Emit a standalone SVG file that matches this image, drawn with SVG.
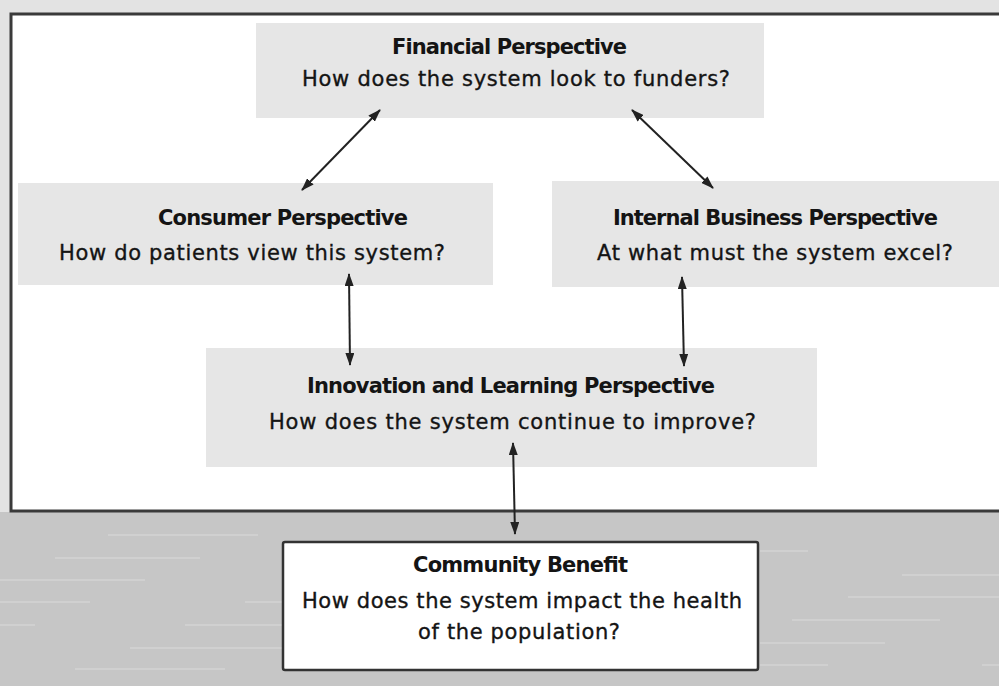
<svg xmlns="http://www.w3.org/2000/svg" width="999" height="686" viewBox="0 0 999 686">
<defs>
<style>
.bg-top{fill:#e3e3e3}
.bg-bot{fill:#c6c6c6}
.streak{stroke:#d3d3d3;stroke-width:1.5}
.frame{fill:#ffffff;stroke:#3a3a3a;stroke-width:3}
.box{fill:#e6e6e6}
.cbox{fill:#ffffff;stroke:#333333;stroke-width:2.5}
text{font-family:"DejaVu Sans","Liberation Sans",sans-serif;font-size:21px;fill:#141414;stroke:#141414;stroke-width:0.35}
.t{font-weight:bold;stroke-width:0}
.conn line{stroke:#222222;stroke-width:2}
</style>
<marker id="ah" viewBox="0 0 13 9" refX="12" refY="4.5" markerWidth="13" markerHeight="9" markerUnits="userSpaceOnUse" orient="auto-start-reverse">
<path d="M0,0 L13,4.5 L0,9 Z" fill="#222222"/>
</marker>
</defs>
<rect class="bg-top" x="0" y="0" width="999" height="686"/>
<rect class="bg-bot" x="0" y="512" width="999" height="174"/>
<g id="streaks">
<line class="streak" x1="108" y1="535" x2="258" y2="535"/>
<line class="streak" x1="55" y1="558" x2="200" y2="558"/>
<line class="streak" x1="0" y1="580" x2="145" y2="580"/>
<line class="streak" x1="0" y1="602" x2="90" y2="602"/>
<line class="streak" x1="245" y1="602" x2="283" y2="602"/>
<line class="streak" x1="185" y1="625" x2="283" y2="625"/>
<line class="streak" x1="0" y1="625" x2="35" y2="625"/>
<line class="streak" x1="130" y1="648" x2="283" y2="648"/>
<line class="streak" x1="75" y1="669" x2="225" y2="669"/>
<line class="streak" x1="760" y1="551" x2="808" y2="551"/>
<line class="streak" x1="902" y1="575" x2="999" y2="575"/>
<line class="streak" x1="848" y1="597" x2="999" y2="597"/>
<line class="streak" x1="792" y1="620" x2="940" y2="620"/>
<line class="streak" x1="760" y1="643" x2="885" y2="643"/>
<line class="streak" x1="982" y1="665" x2="999" y2="665"/>
<line class="streak" x1="760" y1="665" x2="828" y2="665"/>
</g>
<rect class="frame" x="11" y="14" width="1000" height="497"/>
<g id="financial">
<rect class="box" x="256" y="23" width="508" height="95"/>
<text class="t" x="392" y="54" textLength="235" lengthAdjust="spacing">Financial Perspective</text>
<text x="302" y="86" textLength="428" lengthAdjust="spacing">How does the system look to funders?</text>
</g>
<g id="consumer">
<rect class="box" x="18" y="183" width="475" height="102"/>
<text class="t" x="158" y="225" textLength="250" lengthAdjust="spacing">Consumer Perspective</text>
<text x="59" y="260" textLength="386" lengthAdjust="spacing">How do patients view this system?</text>
</g>
<g id="internal">
<rect class="box" x="552" y="181" width="450" height="106"/>
<text class="t" x="613" y="225" textLength="325" lengthAdjust="spacing">Internal Business Perspective</text>
<text x="597" y="260" textLength="356" lengthAdjust="spacing">At what must the system excel?</text>
</g>
<g id="innovation">
<rect class="box" x="206" y="348" width="611" height="119"/>
<text class="t" x="307" y="393" textLength="408" lengthAdjust="spacing">Innovation and Learning Perspective</text>
<text x="269" y="429" textLength="487" lengthAdjust="spacing">How does the system continue to improve?</text>
</g>
<g id="community">
<rect class="cbox" x="283" y="542" width="475" height="128" rx="2"/>
<text class="t" x="413" y="572" textLength="215" lengthAdjust="spacing">Community Benefit</text>
<text x="302" y="608" textLength="440" lengthAdjust="spacing">How does the system impact the health</text>
<text x="418" y="639" textLength="202" lengthAdjust="spacing">of the population?</text>
</g>
<g id="connectors" class="conn">
<line x1="380" y1="110" x2="302" y2="190" marker-start="url(#ah)" marker-end="url(#ah)"/>
<line x1="632" y1="110" x2="713" y2="188" marker-start="url(#ah)" marker-end="url(#ah)"/>
<line x1="349" y1="274" x2="350" y2="365" marker-start="url(#ah)" marker-end="url(#ah)"/>
<line x1="682" y1="277" x2="684" y2="366" marker-start="url(#ah)" marker-end="url(#ah)"/>
<line x1="513" y1="443" x2="515" y2="534" marker-start="url(#ah)" marker-end="url(#ah)"/>
</g>
</svg>
